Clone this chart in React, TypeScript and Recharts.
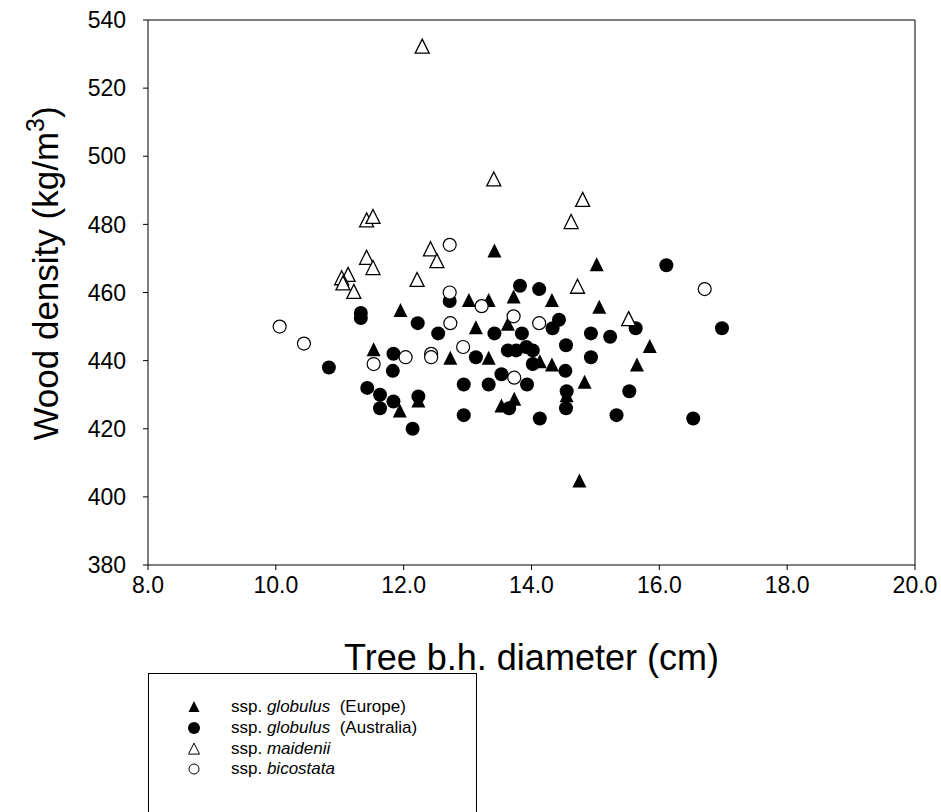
import React from "react";
import {
  ScatterChart,
  Scatter,
  XAxis,
  YAxis,
  ReferenceLine,
  Label,
} from "recharts";

// diameter (cm), density (kg/m3)
const europe: [number, number][] = [
  [13.42, 472], [15.02, 468], [11.95, 454.5], [13.02, 457.5], [13.33, 457.5],
  [13.72, 458.5], [14.32, 457.5], [15.06, 455.5], [13.13, 449.5], [13.63, 450.5],
  [11.53, 443], [12.73, 440.5], [13.33, 440.5], [14.13, 439.5], [14.32, 438.5],
  [15.85, 444], [15.65, 438.5], [14.83, 433.5], [14.55, 429.5], [11.94, 425],
  [12.23, 428], [13.53, 426.5], [13.73, 428.5], [14.75, 404.5],
];

const australia: [number, number][] = [
  [13.82, 462], [14.12, 461], [16.11, 468], [11.33, 454], [11.33, 452.5],
  [12.22, 451], [12.72, 457.5], [12.54, 448], [13.42, 448], [13.85, 448],
  [14.43, 452], [14.33, 449.5], [15.63, 449.5], [14.93, 448], [15.23, 447],
  [16.98, 449.5], [10.83, 438], [11.84, 442], [11.83, 437], [13.13, 441],
  [13.63, 443], [13.76, 443], [13.92, 444], [14.02, 443], [14.02, 439],
  [14.54, 444.5], [14.93, 441], [13.53, 436], [14.53, 437], [13.93, 433],
  [12.94, 433], [13.33, 433], [14.55, 431], [15.53, 431], [11.43, 432],
  [11.63, 430], [11.84, 428], [11.63, 426], [12.23, 429.5], [12.14, 420],
  [12.94, 424], [13.65, 426], [14.13, 423], [14.54, 426], [15.33, 424],
  [16.53, 423],
];

const maidenii: [number, number][] = [
  [12.29, 532], [13.41, 493], [14.8, 487], [14.62, 480.5], [11.42, 481],
  [11.52, 482], [12.42, 472.5], [12.52, 469], [11.42, 470], [11.52, 467],
  [11.13, 465], [11.03, 464], [11.05, 462.5], [12.21, 463.5], [11.22, 460],
  [14.72, 461.5], [15.52, 452],
];

const bicostata: [number, number][] = [
  [12.72, 474], [12.72, 460], [13.22, 456], [12.73, 451], [13.72, 453],
  [10.06, 450], [10.44, 445], [11.53, 439], [12.03, 441], [12.43, 442],
  [12.43, 441], [12.93, 444], [13.73, 435], [14.12, 451], [16.71, 461],
];

const xTicks = [8, 10, 12, 14, 16, 18, 20];
const yTicks = [380, 400, 420, 440, 460, 480, 500, 520, 540];

const toPoints = (arr: [number, number][]) => arr.map(([x, y]) => ({ x, y }));

const FONT = "'Liberation Sans', Arial, Helvetica, sans-serif";

const triPath = (cx: number, cy: number, s: number) =>
  `M${cx},${cy - s * 0.58} L${cx + s / 2},${cy + s * 0.42} L${cx - s / 2},${cy + s * 0.42} Z`;

const FilledTri = (p: any) => <path d={triPath(p.cx, p.cy, 14)} fill="#000" />;
const OpenTri = (p: any) => (
  <path d={triPath(p.cx, p.cy, 14)} fill="#fff" stroke="#000" strokeWidth={1.3} />
);
const FilledDot = (p: any) => <circle cx={p.cx} cy={p.cy} r={7} fill="#000" />;
const OpenDot = (p: any) => (
  <circle cx={p.cx} cy={p.cy} r={6.5} fill="#fff" stroke="#000" strokeWidth={1.2} />
);

const YTitle = (props: any) => {
  const vb = props.viewBox;
  const x = vb.x - 30;
  const y = vb.y + vb.height / 2 - 19;
  return (
    <text
      x={x}
      y={y}
      transform={`rotate(-90 ${x} ${y})`}
      textAnchor="middle"
      fontFamily={FONT}
      fontSize={35}
      fill="#000"
    >
      Wood density (kg/m
      <tspan dy={-14} fontSize={25}>3</tspan>
      <tspan dy={14}>)</tspan>
    </text>
  );
};

const legendRows = [
  { kind: "ftri", name: "globulus", extra: "  (Europe)" },
  { kind: "fdot", name: "globulus", extra: "  (Australia)" },
  { kind: "otri", name: "maidenii", extra: "" },
  { kind: "odot", name: "bicostata", extra: "" },
];

function LegendMark({ kind }: { kind: string }) {
  return (
    <svg width={16} height={16} style={{ display: "block" }}>
      {kind === "ftri" && <path d={triPath(8, 8.5, 11)} fill="#000" />}
      {kind === "fdot" && <circle cx={8} cy={8} r={6} fill="#000" />}
      {kind === "otri" && <path d={triPath(8, 8.5, 11)} fill="#fff" stroke="#000" strokeWidth={1} />}
      {kind === "odot" && <circle cx={8} cy={8} r={5} fill="#fff" stroke="#000" strokeWidth={1} />}
    </svg>
  );
}

export default function App() {
  return (
    <div
      style={{
        position: "absolute",
        left: 0,
        top: 0,
        width: 941,
        height: 812,
        overflow: "hidden",
        background: "#fff",
        fontFamily: FONT,
      }}
    >
      <ScatterChart
        width={941}
        height={700}
        margin={{ top: 20, right: 26, left: 88, bottom: 100 }}
      >
        <XAxis
          type="number"
          dataKey="x"
          domain={[8, 20]}
          ticks={xTicks}
          allowDataOverflow
          tickFormatter={(v: number) => v.toFixed(1)}
          stroke="#000"
          tickSize={5}
          tickMargin={7}
          height={35}
          tick={{ fill: "#000", fontSize: 23, fontFamily: FONT }}
        >
          <Label
            value="Tree b.h. diameter (cm)"
            position="bottom"
            offset={44}
            style={{ fill: "#000", fontSize: 36, fontFamily: FONT }}
          />
        </XAxis>
        <YAxis
          type="number"
          dataKey="y"
          domain={[380, 540]}
          ticks={yTicks}
          allowDataOverflow
          stroke="#000"
          tickSize={5}
          tickMargin={17}
          width={60}
          tick={{ fill: "#000", fontSize: 23, fontFamily: FONT }}
        >
          <Label content={<YTitle />} />
        </YAxis>
        <ReferenceLine y={540} stroke="#000" />
        <ReferenceLine x={20} stroke="#000" />
        <Scatter data={toPoints(australia)} shape={<FilledDot />} isAnimationActive={false} />
        <Scatter data={toPoints(europe)} shape={<FilledTri />} isAnimationActive={false} />
        <Scatter data={toPoints(maidenii)} shape={<OpenTri />} isAnimationActive={false} />
        <Scatter data={toPoints(bicostata)} shape={<OpenDot />} isAnimationActive={false} />
      </ScatterChart>

      <div
        style={{
          position: "absolute",
          left: 148,
          top: 673,
          width: 329,
          height: 160,
          border: "1px solid #000",
          boxSizing: "border-box",
          paddingTop: 23,
        }}
      >
        {legendRows.map((r, i) => (
          <div
            key={i}
            style={{ display: "flex", alignItems: "center", height: 20.7, fontSize: 17, color: "#000" }}
          >
            <div style={{ width: 37, paddingLeft: 37, marginRight: 8 }}>
              <LegendMark kind={r.kind} />
            </div>
            <span style={{ whiteSpace: "pre" }}>
              ssp. <i>{r.name}</i>
              {r.extra}
            </span>
          </div>
        ))}
      </div>
    </div>
  );
}
